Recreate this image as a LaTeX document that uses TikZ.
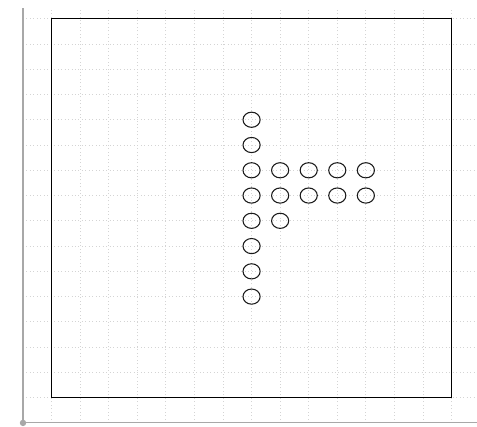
\documentclass[tikz,border=0pt]{standalone}
\usepackage{xcolor}
\usepackage{tikz}
\usetikzlibrary{calc,positioning}
\definecolor{gridgray}{HTML}{D4D4D4}
\definecolor{axisgray}{HTML}{A8A8A8}
\definecolor{pegline}{HTML}{1A1A1A}
\tikzset{
    gridline/.style={color=gridgray, dotted, line width=0.6pt},
    peg/.style={color=pegline, line width=0.8pt}
}

\begin{document}
\begin{tikzpicture}[x=21.43pt, y=18.95pt]
        \useasboundingbox (-0.805,-0.158) rectangle (15.89,16.74);

        % ----------------------------------------------------
        % GRID
        % ----------------------------------------------------
        \foreach \gx in {1,...,15}
            \draw[gridline] (\gx,0) -- (\gx,16.42);
        \foreach \gy in {1,...,16}
            \draw[gridline] (0,\gy) -- (15.89,\gy);

        % ----------------------------------------------------
        % AXES AND ORIGIN
        % ----------------------------------------------------
        \draw[color=axisgray, line width=0.8pt] (0,16.42) -- (0,0) -- (15.89,0);
        \fill[axisgray] (0,0) circle (2.4pt);

        % ----------------------------------------------------
        % BOARD
        % ----------------------------------------------------
        \draw[color=black, line width=0.9pt] (1,1) rectangle (15,16);

        % ----------------------------------------------------
        % PEGS
        % ----------------------------------------------------
        \foreach \py in {5,...,12}
            \draw[peg] (8,\py) circle (0.3);
        \foreach \px in {9,...,12} {
            \draw[peg] (\px,10) circle (0.3);
            \draw[peg] (\px,9) circle (0.3);
        }
        \draw[peg] (9,8) circle (0.3);
    \end{tikzpicture}
\end{document}
